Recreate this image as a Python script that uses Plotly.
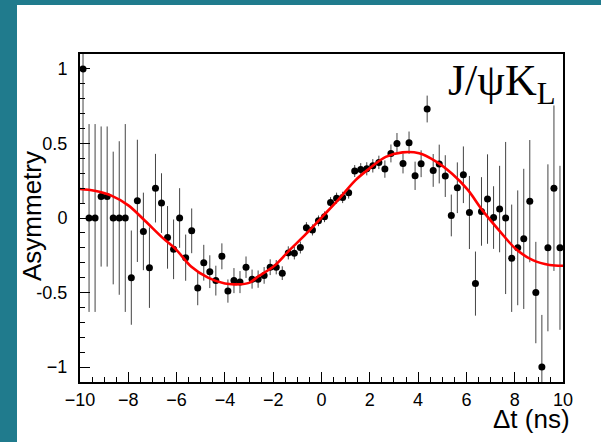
import plotly.graph_objects as go

# Bin centres (ns), 80 bins of 0.25 ns from -10 to 10
dt = [-9.875 + 0.25 * i for i in range(80)]

asym = [1.0, 0.0, 0.0, 0.144, 0.144, 0.0, 0.0, 0.0, -0.40, 0.115,
        -0.09, -0.333, 0.20, 0.10, -0.13, -0.21, 0.0, -0.266, -0.086, -0.47,
        -0.30, -0.36, -0.42, -0.257, -0.49, -0.42, -0.43, -0.33, -0.41, -0.41,
        -0.385, -0.33, -0.33, -0.37, -0.234, -0.236, -0.198, -0.066, -0.08, -0.019,
        0.008, 0.104, 0.133, 0.138, 0.169, 0.315, 0.326, 0.33, 0.35, 0.373,
        0.328, 0.433, 0.50, 0.366, 0.505, 0.283, 0.364, 0.731, 0.319, 0.362,
        0.281, 0.017, 0.203, 0.29, 0.037, -0.44, 0.044, 0.127, 0.003, 0.06,
        0.0, -0.27, -0.20, -0.14, 0.113, -0.50, -1.0, -0.20, 0.20, -0.20]

err = [0.9, 0.63, 0.63, 0.47, 0.47, 0.445, 0.515, 0.63, 0.316, 0.41,
       0.26, 0.27, 0.23, 0.20, 0.21, 0.20, 0.20, 0.155, 0.15, 0.115,
       0.12, 0.11, 0.10, 0.087, 0.078, 0.084, 0.074, 0.072, 0.064, 0.058,
       0.056, 0.053, 0.048, 0.046, 0.044, 0.042, 0.04, 0.038, 0.037, 0.036,
       0.036, 0.036, 0.037, 0.038, 0.039, 0.04, 0.042, 0.044, 0.045, 0.045,
       0.058, 0.06, 0.07, 0.067, 0.075, 0.095, 0.09, 0.09, 0.11, 0.13,
       0.14, 0.14, 0.17, 0.19, 0.245, 0.215, 0.23, 0.30, 0.21, 0.29,
       0.51, 0.36, 0.385, 0.47, 0.41, 0.34, 0.35, 0.56, 0.555, 0.55]

# Fit curve
fit_t = [-10.0, -9.4, -8.7, -8.0, -7.3, -6.6, -6.0, -5.4, -4.7, -4.0, -3.5,
         -3.0, -2.6, -1.95, -1.35, -0.66, 0.03, 0.72, 1.41, 2.05, 2.66, 3.35,
         4.04, 4.73, 5.42, 6.05, 6.68, 7.37, 8.06, 8.75, 9.44, 10.0]
fit_a = [0.195, 0.183, 0.15, 0.085, -0.02, -0.13, -0.215, -0.325, -0.40, -0.44, -0.445,
         -0.435, -0.39, -0.32, -0.22, -0.11, 0.008, 0.127, 0.254, 0.34, 0.41, 0.44,
         0.434, 0.38, 0.295, 0.19, 0.048, -0.086, -0.21, -0.283, -0.315, -0.32]

x_ticks = [-10, -8, -6, -4, -2, 0, 2, 4, 6, 8, 10]
x_text = ["\u221210", "\u22128", "\u22126", "\u22124", "\u22122", "0", "2", "4", "6", "8", "10"]
y_ticks = [-1, -0.5, 0, 0.5, 1]
y_text = ["\u22121", "-0.5", "0", "0.5", "1"]

L, R, T, B = 80, 563, 54, 382
W, H = 601, 442
pw, ph = R - L, B - T

def px(x):
    return (x - L) / pw

def py(y):
    return (B - y) / ph

fig = go.Figure()
fig.add_trace(go.Scatter(
    x=dt, y=asym, mode="markers",
    marker=dict(color="black", size=7),
    error_y=dict(type="data", array=err, color="#444444", thickness=1, width=0),
    showlegend=False,
))
fig.add_trace(go.Scatter(
    x=fit_t, y=fit_a, mode="lines",
    line=dict(color="#ff0000", width=2.6, shape="spline", smoothing=1.0),
    showlegend=False,
))

font = "Liberation Sans, Arial, Helvetica, sans-serif"
fig.update_layout(
    width=W, height=H,
    margin=dict(l=L, r=W - R, t=T, b=H - B, pad=0),
    paper_bgcolor="#207b8d",
    plot_bgcolor="white",
    font=dict(family=font, color="black", size=18),
    xaxis=dict(
        range=[-10, 10], tickmode="array", tickvals=x_ticks, ticktext=x_text,
        ticks="inside", ticklen=10, tickwidth=1, tickcolor="black",
        minor=dict(tickmode="linear", tick0=-10, dtick=0.5, ticks="inside",
                   ticklen=5, tickwidth=1, tickcolor="black"),
        showline=True, linewidth=2, linecolor="black", mirror=True,
        showgrid=False, zeroline=False, ticklabelstandoff=0,
        tickfont=dict(size=18),
    ),
    yaxis=dict(
        range=[-1.1, 1.1], tickmode="array", tickvals=y_ticks, ticktext=y_text,
        ticks="inside", ticklen=10, tickwidth=1, tickcolor="black",
        minor=dict(tickmode="linear", tick0=0, dtick=0.1, ticks="inside",
                   ticklen=5, tickwidth=1, tickcolor="black"),
        showline=True, linewidth=2, linecolor="black", mirror=True,
        showgrid=False, zeroline=False, ticklabelstandoff=7,
        tickfont=dict(size=18),
    ),
    shapes=[dict(type="rect", xref="paper", yref="paper", layer="below",
                 x0=px(17), x1=px(W + 20), y0=py(H + 20), y1=py(5),
                 fillcolor="white", line=dict(width=0))],
    annotations=[
        dict(text="Asymmetry", xref="paper", yref="paper", x=px(32), y=py(216),
             xanchor="center", yanchor="middle", textangle=-90, showarrow=False,
             font=dict(size=26, family=font)),
        dict(text="\u0394t (ns)", xref="paper", yref="paper", x=px(572), y=py(419),
             xanchor="right", yanchor="middle", showarrow=False,
             font=dict(size=26, family=font)),
        dict(text="J/\u03c8K<sub>L</sub>", xref="paper", yref="paper", x=px(557), y=py(84),
             xanchor="right", yanchor="middle", showarrow=False,
             font=dict(size=44, family="Liberation Serif, Times New Roman, serif")),
    ],
)

fig.write_html("out.html", config={"displayModeBar": False},
               post_script="document.body.style.margin='0px';document.body.style.overflow='hidden';")
